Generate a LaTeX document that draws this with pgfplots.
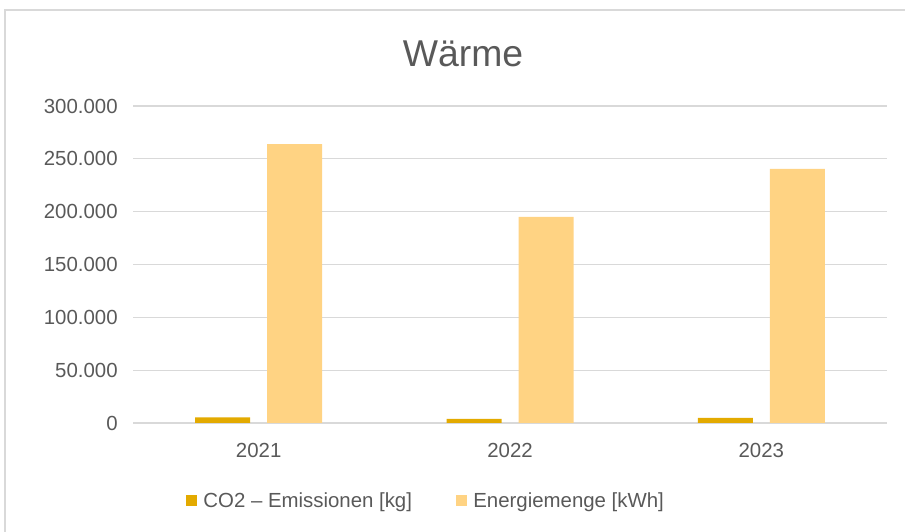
\documentclass[border=0pt]{standalone}
\usepackage{fontspec}
\setmainfont{Liberation Sans}
\usepackage{pgfplots}
\pgfplotsset{compat=1.18}
\definecolor{coTwo}{HTML}{E3AA00}
\definecolor{energie}{HTML}{FFD383}
\definecolor{gridGray}{HTML}{D9D9D9}
\definecolor{txtGray}{HTML}{595959}

\begin{document}
\begin{tikzpicture}
\useasboundingbox (0pt,0pt) rectangle (678.75pt,398.25pt);
\draw[gridGray, line width=0.9pt] (3.75pt,-10pt) -- (3.75pt,390.75pt) -- (690pt,390.75pt);
\node[txtGray, font=\fontsize{28}{32}\selectfont] at (347.25pt,357.75pt) {Wärme};
\begin{axis}[
    at={(99.75pt,81pt)}, anchor=south west,
    scale only axis,
    width=565.5pt, height=237.75pt,
    ybar, bar width=41.25pt,
    xmin=-0.5, xmax=2.5,
    ymin=0, ymax=300000,
    xtick=data,
    xticklabels={2021,2022,2023},
    ytick={0,50000,100000,150000,200000,250000,300000},
    scaled y ticks=false,
    ymajorgrids,
    grid style={gridGray, line width=0.9pt},
    axis line style={draw=none},
    major tick length=0pt,
    tick label style={txtGray, font=\fontsize{15.3}{18}\selectfont},
    yticklabel style={xshift=-8pt},
    xticklabel style={yshift=-12pt},
    legend style={at={(0.389,-0.245)}, anchor=center, draw=none, fill=none,
        legend columns=2, font=\fontsize{15.3}{18}\selectfont, text=txtGray,
        /tikz/every even column/.append style={column sep=31pt},
        inner sep=0pt},
    legend image code/.code={\fill[#1] (0pt,-4pt) rectangle (8pt,4pt); \path (11pt,0pt);},
    /pgf/number format/.cd, fixed, 1000 sep={.}, assume math mode=true,
]
\addplot[draw=none, fill=coTwo, bar shift=-27pt] coordinates {(0,5300) (1,4000) (2,4900)};
\addplot[draw=none, fill=energie, bar shift=27pt] coordinates {(0,264000) (1,195000) (2,240500)};
\legend{CO2 – Emissionen [kg], Energiemenge [kWh]}
\end{axis}
\end{tikzpicture}
\end{document}
